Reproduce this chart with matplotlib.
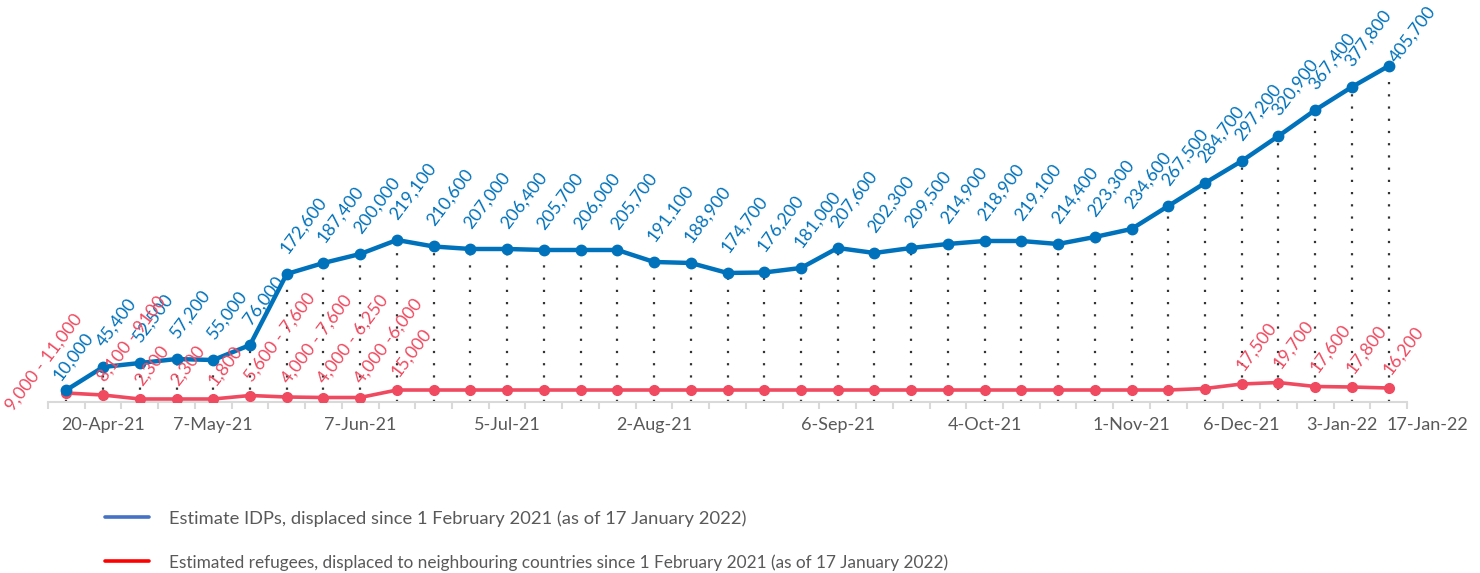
import numpy as np
import matplotlib
matplotlib.use("Agg")
import matplotlib.pyplot as plt
import matplotlib.transforms as mtransforms
from matplotlib.lines import Line2D

# Plotted values (people)
idp_values = [14400, 42000, 46800, 51600, 50400, 68400, 153700, 166900, 177700, 194500,
              186700, 183700, 183700, 182500, 182500, 182500, 168100, 166900, 154900, 155500,
              160900, 184900, 178900, 184900, 189700, 193300, 193300, 189700, 198100, 207700,
              235300, 262900, 289300, 319300, 350500, 378200, 403400]
refugee_values = [10800, 8400, 3600, 3600, 3600, 7800, 6000, 5400, 5400, 14400,
                  14400, 14400, 14400, 14400, 14400, 14400, 14400, 14400, 14400, 14400,
                  14400, 14400, 14400, 14400, 14400, 14400, 14400, 14400, 14400, 14400,
                  14400, 16200, 21600, 23400, 18600, 18000, 16800]

# Data label texts as printed on the chart
idp_labels = ["10,000", "45,400", "52,500", "57,200", "55,000", "76,000", "172,600", "187,400",
              "200,000", "219,100", "210,600", "207,000", "206,400", "205,700", "206,000",
              "205,700", "191,100", "188,900", "174,700", "176,200", "181,000", "207,600",
              "202,300", "209,500", "214,900", "218,900", "219,100", "214,400", "223,300",
              "234,600", "267,500", "284,700", "297,200", "320,900", "367,400", "377,800",
              "405,700"]
refugee_labels = ["9,000 - 11,000", "8,100 - 9100", "2,300", "2,300", "1,800", "5,600 - 7,600",
                  "4,000 - 7,600", "4,000 - 6,250", "4,000 -6,000", "15,000"] + [""] * 22 + \
                 ["17,500", "19,700", "17,600", "17,800", "16,200"]

# Category axis labels (index -> date)
tick_index = [1, 4, 8, 12, 16, 21, 25, 29, 32, 35, 36]
tick_text = ["20-Apr-21", "7-May-21", "7-Jun-21", "5-Jul-21", "2-Aug-21", "6-Sep-21",
             "4-Oct-21", "1-Nov-21", "6-Dec-21", "3-Jan-22", "17-Jan-22"]

legend_text = ["Estimate IDPs, displaced since 1 February 2021 (as of 17 January 2022)",
               "Estimated refugees, displaced to neighbouring countries since 1 February 2021 (as of 17 January 2022)"]

BLUE = "#0072BC"
RED = "#EF4A60"
GREY = "#595959"
LABEL_SIZE = 12.8

plt.rcParams['font.family'] = ['Lato', 'DejaVu Sans']

fig = plt.figure(figsize=(14.8, 5.73), dpi=100)
ax = fig.add_axes([48 / 1480, 1 - 402 / 573, (1407 - 48) / 1480, (402 - 30) / 573])

x = np.arange(len(idp_values))

# Drop lines from the IDP points down to the axis
ax.vlines(x, 0, idp_values, colors="#333333", linestyles=(0, (1, 4.5)), linewidth=1.6, zorder=1)

ax.plot(x, refugee_values, color=RED, linewidth=2.6, marker="o", markersize=7, zorder=3,
        solid_capstyle="round")
ax.plot(x, idp_values, color=BLUE, linewidth=3.2, marker="o", markersize=7.5, zorder=4,
        solid_capstyle="round")

# Data labels
n = len(idp_values)
for i, (v, s) in enumerate(zip(idp_values, idp_labels)):
    if i == n - 1:
        off = (6, 2)
    elif i == 0:
        off = (-4, 6)
    else:
        off = (0.5, 14)
    ax.annotate(s, (i, v), xytext=off, textcoords="offset points", rotation=53,
                rotation_mode="anchor", ha="left", va="baseline", color=BLUE,
                fontsize=LABEL_SIZE, zorder=5)

for i, (v, s) in enumerate(zip(refugee_values, refugee_labels)):
    if not s:
        continue
    if i == 0:
        # first label sits to the left of the point
        ax.annotate(s, (i, v), xytext=(-16, 22), textcoords="offset points", rotation=53,
                    rotation_mode="anchor", ha="center", va="center", color=RED,
                    fontsize=LABEL_SIZE, zorder=5)
    else:
        ax.annotate(s, (i, v), xytext=(1.5, 9), textcoords="offset points", rotation=53,
                    rotation_mode="anchor", ha="left", va="baseline", color=RED,
                    fontsize=LABEL_SIZE, zorder=5)

# Axes styling
ax.set_xlim(-0.5, len(x) - 0.5)
ax.set_ylim(0, 446600)
for side in ["top", "right", "left"]:
    ax.spines[side].set_visible(False)
ax.spines["bottom"].set_color("#D9D9D9")
ax.spines["bottom"].set_linewidth(1.5)
ax.set_yticks([])

ax.set_xticks(tick_index)
ax.set_xticklabels(tick_text, fontsize=13, color=GREY)
ax.set_xticks(np.arange(-0.5, len(x), 1), minor=True)
ax.tick_params(axis="x", which="major", length=0, pad=11)
ax.tick_params(axis="x", which="minor", length=5, width=1.5, color="#D9D9D9")

# Nudge the last two date labels like in the source chart
for lab, dx in zip(ax.get_xticklabels()[-2:], [-10, 39]):
    lab.set_transform(lab.get_transform() + mtransforms.ScaledTranslation(dx / 100, 0, fig.dpi_scale_trans))

# Legend
handles = [Line2D([0], [0], color="#4472C4", linewidth=2.6, solid_capstyle="round"),
           Line2D([0], [0], color="#FF0000", linewidth=2.6, solid_capstyle="round")]
leg = fig.legend(handles, legend_text, loc="upper left", bbox_to_anchor=(105 / 1480, 1 - 510 / 573),
                 frameon=False, fontsize=13.2, labelcolor=GREY, handlelength=2.4,
                 handletextpad=1.1, labelspacing=1.5, borderpad=0, borderaxespad=0)
leg.get_texts()[1].set_fontsize(12.4)

fig.savefig("out.png", dpi=100)
